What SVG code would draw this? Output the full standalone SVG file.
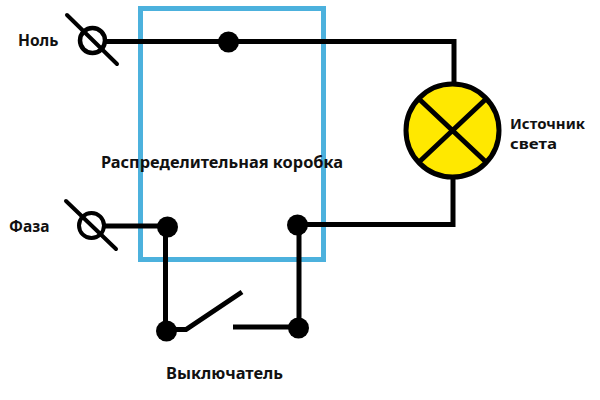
<svg xmlns="http://www.w3.org/2000/svg" width="600" height="400" viewBox="0 0 600 400">
<style>
.w{fill:none;stroke:#000;stroke-width:5;stroke-linecap:butt;stroke-linejoin:miter}
.t{fill:none;stroke:#000;stroke-width:4;stroke-linecap:round}
.d{fill:#000}
text{font-family:"Noto Sans","DejaVu Sans",sans-serif;font-size:15.500px;font-weight:bold;fill:#111}
.s{font-size:14.500px}
</style>
<rect width="600" height="400" fill="#fff"/>
<g id="junction-box"><rect x="140.500" y="8.500" width="183" height="251" fill="none" stroke="#4cb1dd" stroke-width="5"/>
<text x="101" y="168" textLength="242" lengthAdjust="spacingAndGlyphs">Распределительная коробка</text></g>
<g id="connectors">
<path class="w" d="M106 41.500H454V84"/>
<path class="w" d="M453 178V224.500H297"/>
<path class="w" d="M104 226H167"/>
<path class="w" d="M165.500 226V331"/>
<path class="w" d="M299 225V328"/>
<path class="w" d="M166 329.500H186L242 292"/>
<path class="w" d="M233 327H298"/>
</g>
<g id="null-terminal"><circle cx="92.500" cy="40.500" r="12.500" fill="#fff" stroke="#000" stroke-width="4.500"/><path class="t" d="M67 15L117 64"/><text x="18" y="46">Ноль</text></g>
<g id="phase-terminal"><circle cx="91.500" cy="225.500" r="12.500" fill="#fff" stroke="#000" stroke-width="4"/><path class="t" d="M66 201L116 249"/><text x="9" y="232">Фаза</text></g>
<g id="node-top"><circle class="d" cx="228.500" cy="42" r="10.500"/></g>
<g id="node-left"><circle class="d" cx="167.500" cy="227" r="10.500"/></g>
<g id="node-right"><circle class="d" cx="297.500" cy="225" r="10.500"/></g>
<g id="switch-left"><circle class="d" cx="166.500" cy="331" r="10.500"/></g>
<g id="switch-right"><circle class="d" cx="298.500" cy="328" r="10.500"/></g>
<g id="lamp"><circle cx="452.500" cy="130.500" r="46.500" fill="#ffe800" stroke="#000" stroke-width="5"/><path d="M418 98L487 163M487 98L418 163" fill="none" stroke="#000" stroke-width="5"/>
<text class="s" x="510" y="129" textLength="75" lengthAdjust="spacingAndGlyphs">Источник</text><text class="s" x="510" y="149" textLength="47" lengthAdjust="spacingAndGlyphs">света</text></g>
<g id="switch"><text x="166" y="379" textLength="117" lengthAdjust="spacingAndGlyphs">Выключатель</text></g>
</svg>
